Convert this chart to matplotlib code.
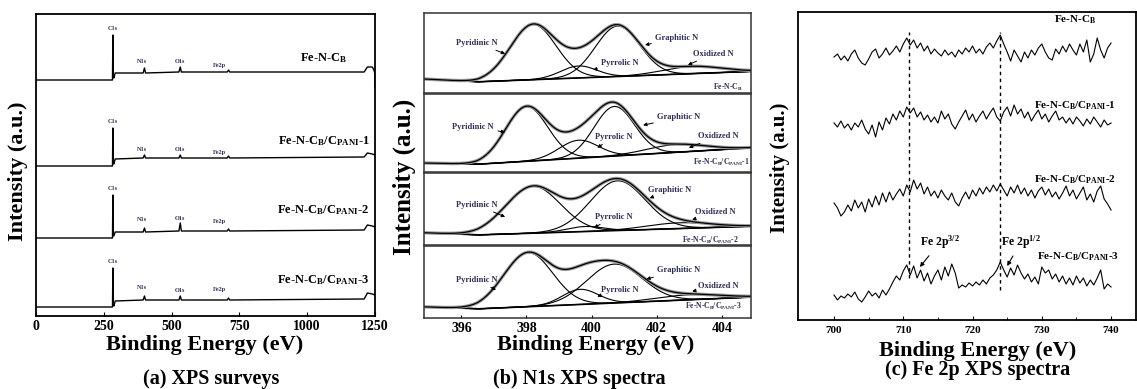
import numpy as np
import matplotlib
matplotlib.use("Agg")
import matplotlib.pyplot as plt

plt.rcParams['font.family'] = ['Liberation Serif', 'DejaVu Serif']
plt.rcParams['font.weight'] = 'bold'
plt.rcParams['mathtext.fontset'] = 'custom'
plt.rcParams['mathtext.rm'] = 'Liberation Serif:bold'
plt.rcParams['mathtext.it'] = 'Liberation Serif:bold'
plt.rcParams['mathtext.bf'] = 'Liberation Serif:bold'

W, H = 1137, 389
NAVY = '#2c2c5a'

sample_names = ['Fe-N-C$_{B}$', 'Fe-N-C$_{B}$/C$_{PANI}$-1',
                'Fe-N-C$_{B}$/C$_{PANI}$-2', 'Fe-N-C$_{B}$/C$_{PANI}$-3']

# ---- (a) survey spectra: breakpoints (eV, stacked intensity a.u.)
survey_e1 = [0, 282, 283.5, 285, 287, 292, 395, 400, 404, 527, 532, 536,
             705, 710, 714, 1210, 1222, 1240, 1246, 1249, 1250]
survey_s1 = [236, 236, 281, 241, 238, 243, 243, 248, 243, 244, 249, 244,
             244, 246, 244, 244, 249, 249, 246, 243, 229]
survey_e = [0, 282, 283.5, 285, 287, 292, 395, 400, 404, 527, 532, 536,
            705, 710, 714, 1210, 1222, 1240, 1250]
survey_s2 = [150, 150, 188, 155, 152, 157, 158, 161, 158, 158, 161, 158,
             158, 160, 158, 159, 163, 162, 161]
survey_s3 = [78, 78, 121, 83, 80, 84, 84, 88, 84, 85, 93, 85,
             85, 87, 85, 86, 91, 90, 89]
survey_s4 = [9, 9, 48, 13, 10, 15, 16, 20, 16, 16, 20, 16,
             16, 18, 16, 17, 23, 22, 21]
survey_peak_names = ['C1s', 'N1s', 'O1s', 'Fe2p']
survey_peak_e = [284, 391, 531, 675]
survey_peak_y = [[285, 252, 252, 248],
                 [192, 164, 164, 161],
                 [125, 94, 95, 92],
                 [52, 26, 23, 24]]
survey_label_y = [251, 168, 99, 29]

# ---- (b) N1s fits: baseline points and peak parameters (centre, height, sigma)
n1s_base_e = [394.85, 396.5, 404.9]
n1s_base = [[0.175, 0.14, 0.27],
            [0.115, 0.10, 0.31],
            [0.17, 0.14, 0.26],
            [0.155, 0.127, 0.29]]
n1s_components = ['Pyridinic N', 'Pyrrolic N', 'Graphitic N', 'Oxidized N']
n1s_centre = [[398.2, 399.6, 400.8, 403.1],
              [398.0, 399.6, 400.7, 402.6],
              [398.2, 399.8, 400.8, 402.7],
              [398.05, 399.65, 400.7, 403.0]]
n1s_height = [[0.69, 0.15, 0.63, 0.09],
              [0.70, 0.23, 0.635, 0.10],
              [0.65, 0.07, 0.69, 0.08],
              [0.75, 0.21, 0.54, 0.07]]
n1s_sigma = [[0.70, 0.55, 0.68, 0.90],
             [0.65, 0.60, 0.62, 0.90],
             [0.84, 0.55, 0.84, 1.00],
             [0.75, 0.55, 0.85, 1.00]]
# label text positions / arrow tips (axes fraction) per panel, per component
n1s_text = [[(0.162, 0.625), (0.60, 0.375), (0.774, 0.69), (0.884, 0.49)],
            [(0.15, 0.58), (0.58, 0.45), (0.78, 0.70), (0.90, 0.46)],
            [(0.16, 0.56), (0.58, 0.39), (0.75, 0.76), (0.89, 0.46)],
            [(0.16, 0.53), (0.60, 0.39), (0.78, 0.66), (0.90, 0.45)]]
n1s_tip = [[(0.248, 0.49), (0.517, 0.29), (0.676, 0.60), (0.807, 0.35)],
           [(0.248, 0.51), (0.53, 0.31), (0.67, 0.60), (0.81, 0.31)],
           [(0.248, 0.39), (0.52, 0.24), (0.69, 0.65), (0.82, 0.35)],
           [(0.22, 0.39), (0.53, 0.30), (0.68, 0.54), (0.82, 0.37)]]
n1s_name_pos = [(0.93, 0.075), (0.91, 0.12), (0.875, 0.07), (0.885, 0.155)]

# ---- (c) Fe 2p spectra, 700-740 eV in 0.5 eV steps (stacked a.u.)
fe_1 = [263, 266, 260, 264, 259, 266, 270, 262, 257, 255, 261, 268, 271, 262,
        266, 272, 265, 269, 274, 268, 276, 282, 275, 280, 272, 277, 269, 274,
        266, 271, 267, 264, 270, 265, 268, 263, 270, 266, 272, 268, 274, 267,
        271, 266, 273, 277, 272, 279, 285, 276, 268, 259, 270, 264, 258, 268,
        262, 270, 265, 272, 276, 268, 262, 260, 271, 266, 274, 268, 276, 270,
        265, 276, 268, 280, 258, 266, 282, 270, 262, 272, 277]
fe_2 = [197, 193, 199, 192, 196, 190, 197, 193, 200, 191, 186, 195, 183, 198,
        190, 202, 196, 206, 200, 209, 203, 213, 207, 212, 203, 208, 200, 205,
        198, 203, 197, 209, 201, 206, 196, 191, 198, 204, 210, 200, 206, 198,
        204, 209, 201, 207, 212, 203, 199, 208, 213, 204, 215, 206, 211, 202,
        208, 199, 205, 210, 201, 206, 198, 204, 209, 200, 203, 197, 202, 196,
        203, 199, 194, 201, 196, 203, 198, 193, 200, 195, 197]
fe_3 = [117, 112, 104, 108, 115, 109, 120, 112, 118, 108, 121, 113, 124, 115,
        127, 118, 128, 120, 126, 131, 124, 135, 128, 140, 131, 137, 126, 133,
        124, 129, 122, 130, 124, 120, 127, 118, 114, 122, 128, 121, 130, 124,
        132, 126, 133, 128, 135, 129, 136, 130, 124, 133, 127, 135, 126, 132,
        124, 130, 122, 129, 133, 125, 131, 123, 128, 121, 127, 134, 124, 130,
        121, 127, 133, 120, 126, 118, 129, 134, 121, 116, 110]
fe_4 = [25, 20, 24, 22, 26, 23, 28, 21, 18, 23, 29, 24, 27, 22, 30, 25, 31, 38,
        44, 40, 49, 55, 45, 54, 42, 50, 39, 47, 36, 44, 50, 40, 53, 44, 56, 47,
        32, 35, 33, 37, 34, 38, 35, 40, 36, 42, 45, 50, 58, 50, 43, 52, 45, 55,
        47, 41, 46, 38, 43, 36, 53, 47, 50, 41, 46, 38, 44, 36, 42, 35, 44, 37,
        42, 34, 40, 35, 42, 50, 31, 36, 33]
fe_traces = [fe_1, fe_2, fe_3, fe_4]
fe_label_pos = [(734.8, 300), (734.8, 214), (734.8, 140), (735.2, 63)]
fe_lines = [710.8, 724.0]
fe_line_top = [288, 288]
fe_line_bottom = [42, 30]
fe_peak_labels = ['Fe 2p$^{3/2}$', 'Fe 2p$^{1/2}$']
fe_peak_text = [(715.3, 78), (727.0, 78)]
fe_peak_tip = [(712.4, 53), (725.0, 54)]


def fig_rect(x0, y0, x1, y1):
    return [x0 / W, 1 - y1 / H, (x1 - x0) / W, (y1 - y0) / H]


def px(x, y):
    return x / W, 1 - y / H


fig = plt.figure(figsize=(W / 100, H / 100), dpi=100)

# ================= (a) =================
ax_a = fig.add_axes(fig_rect(36, 14, 375, 316))
ax_a.plot(survey_e1, survey_s1, color='k', lw=1.0)
for s in (survey_s2, survey_s3, survey_s4):
    ax_a.plot(survey_e, s, color='k', lw=1.0)
for i in range(4):
    for name, e, y in zip(survey_peak_names, survey_peak_e, survey_peak_y[i]):
        ax_a.text(e, y, name, fontsize=4.5, color=NAVY, ha='center', va='bottom')
    ax_a.text(1060, survey_label_y[i], sample_names[i], fontsize=9,
              ha='center', va='bottom')
ax_a.set_xlim(0, 1250)
ax_a.set_ylim(0, 302)
ax_a.set_xticks([0, 250, 500, 750, 1000, 1250])
ax_a.set_yticks([])
ax_a.tick_params(axis='x', direction='in', length=3, labelsize=10, pad=3)
for sp in ax_a.spines.values():
    sp.set_linewidth(1.3)

# ================= (b) =================
box_y = [(13, 93), (94, 172), (173, 245), (246, 318)]
grid = np.linspace(394.85, 404.9, 500)
for i, (y0, y1) in enumerate(box_y):
    ax = fig.add_axes(fig_rect(424, y0, 751, y1))
    base = np.interp(grid, n1s_base_e, n1s_base[i])
    total = base.copy()
    for c, h, s in zip(n1s_centre[i], n1s_height[i], n1s_sigma[i]):
        g = h * np.exp(-(grid - c) ** 2 / (2 * s ** 2))
        total += g
        ax.plot(grid, base + g, color='k', lw=0.8)
    ax.plot(grid, base, color='k', lw=1.2)
    ax.plot(grid, total, color='#9a9a9a', lw=2.4)
    ax.plot(grid, total, color='k', lw=0.9)
    for name, t, tip in zip(n1s_components, n1s_text[i], n1s_tip[i]):
        ax.annotate(name, xy=tip, xycoords='axes fraction', xytext=t,
                    textcoords='axes fraction', ha='center', va='center',
                    fontsize=6, color=NAVY,
                    arrowprops=dict(arrowstyle='-|>', lw=0.7, color='k',
                                    mutation_scale=5, shrinkA=1, shrinkB=0))
    ax.text(*n1s_name_pos[i], sample_names[i], transform=ax.transAxes,
            fontsize=5.5, color=NAVY, ha='center', va='center')
    ax.set_xlim(394.85, 404.9)
    ax.set_ylim(0, 1)
    ax.set_yticks([])
    ax.set_xticks([396, 398, 400, 402, 404])
    if i < 3:
        ax.tick_params(axis='x', direction='in', length=0, labelbottom=False)
    else:
        ax.tick_params(axis='x', direction='in', length=2.5, labelsize=10, pad=3)
    for sp in ax.spines.values():
        sp.set_linewidth(1.1)
        sp.set_color('#333333')

# ================= (c) =================
ax_c = fig.add_axes(fig_rect(798, 12, 1136, 320))
for tr in fe_traces:
    ax_c.plot(np.linspace(700, 740, len(tr)), tr, color='k', lw=0.8)
ax_c.vlines(fe_lines, fe_line_bottom, fe_line_top, colors='k', lw=1.0,
            linestyles=(0, (2.5, 2.5)))
for name, pos in zip(sample_names, fe_label_pos):
    ax_c.text(*pos, name, fontsize=8, ha='center', va='center')
for name, t, tip in zip(fe_peak_labels, fe_peak_text, fe_peak_tip):
    ax_c.annotate(name, xy=tip, xytext=t, ha='center', va='center',
                  fontsize=8.5,
                  arrowprops=dict(arrowstyle='-|>', lw=0.8, color='k',
                                  mutation_scale=6, shrinkA=2, shrinkB=0))
ax_c.set_xlim(694.8, 743.6)
ax_c.set_ylim(0, 308)
ax_c.set_yticks([])
ax_c.set_xticks([700, 710, 720, 730, 740])
ax_c.set_xticks([705, 715, 725, 735], minor=True)
ax_c.tick_params(axis='x', which='major', direction='in', length=3,
                 labelsize=8, pad=4)
ax_c.tick_params(axis='x', which='minor', direction='in', length=2)
for sp in ax_c.spines.values():
    sp.set_linewidth(1.3)

# ================= labels =================
fig.text(*px(18, 171), 'Intensity (a.u.)', rotation=90, fontsize=16,
         ha='center', va='center')
fig.text(*px(404, 177), 'Intensity (a.u.)', rotation=90, fontsize=18,
         ha='center', va='center')
fig.text(*px(780, 168), 'Intensity (a.u.)', rotation=90, fontsize=15,
         ha='center', va='center')
fig.text(*px(205, 345), 'Binding Energy (eV)', fontsize=16, ha='center', va='center')
fig.text(*px(596, 345), 'Binding Energy (eV)', fontsize=16, ha='center', va='center')
fig.text(*px(978, 351), 'Binding Energy (eV)', fontsize=16, ha='center', va='center')
fig.text(*px(211, 379), '(a) XPS surveys', fontsize=14.5, ha='center', va='center')
fig.text(*px(579, 379), '(b) N1s XPS spectra', fontsize=14.5, ha='center', va='center')
fig.text(*px(978, 370), '(c) Fe 2p XPS spectra', fontsize=14.5, ha='center', va='center')

fig.savefig('out.png', dpi=100)
